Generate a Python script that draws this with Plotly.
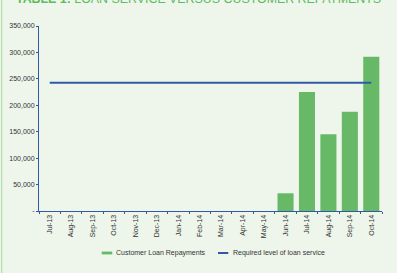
import plotly.graph_objects as go

months = ["Jul-13", "Aug-13", "Sep-13", "Oct-13", "Nov-13", "Dec-13", "Jan-14", "Feb-14",
          "Mar-14", "Apr-14", "May-14", "Jun-14", "Jul-14", "Aug-14", "Sep-14", "Oct-14"]
repayments = [0, 0, 0, 0, 0, 0, 0, 0, 0, 0, 0, 33500, 225000, 145000, 188000, 292000]
required = [242500] * 16
y_ticks = [0, 50000, 100000, 150000, 200000, 250000, 300000, 350000]
y_tick_text = ["-", "50,000", "100,000", "150,000", "200,000", "250,000", "300,000", "350,000"]
series_names = ["Customer Loan Repayments", "Required level of loan service"]

BG = "#eef6ec"
GREEN = "#67b867"
BLUE = "#2f5aa6"
TXT = "#333333"
FONT = "Liberation Sans"

# plot area in pixels: x 39..382, y 26..211.5
L, R, T, B = 39, 382, 26, 211.5
def px(x):
    return (x - L) / (R - L)
def py(y):
    return (B - y) / (B - T)

fig = go.Figure()
fig.add_trace(go.Bar(x=months, y=repayments, name=series_names[0], showlegend=False,
                     marker=dict(color=GREEN, line=dict(width=0))))
fig.add_trace(go.Scatter(x=months, y=required, name=series_names[1], showlegend=False,
                         mode="lines", line=dict(color=BLUE, width=2)))

shapes = [
    dict(type="line", xref="paper", yref="paper", x0=px(1.7), x1=px(1.7),
         y0=py(280), y1=py(-5), line=dict(color="#a8d8a0", width=1)),
    dict(type="rect", xref="paper", yref="paper", x0=px(101.7), x1=px(112.3),
         y0=py(255), y1=py(252.2), line=dict(width=0), fillcolor=GREEN),
    dict(type="line", xref="paper", yref="paper", x0=px(218), x1=px(228.3),
         y0=py(253.6), y1=py(253.6), line=dict(color=BLUE, width=2)),
]
annotations = [
    dict(text="<b>TABLE 1:</b> LOAN SERVICE VERSUS CUSTOMER REPAYMENTS",
         xref="paper", yref="paper", x=px(198.5), y=py(-1.5), xanchor="center",
         yanchor="middle", showarrow=False,
         font=dict(family=FONT, size=12.4, color="#5cbb5e")),
    dict(text=series_names[0], xref="paper", yref="paper", x=px(113.5), y=py(253.6),
         xanchor="left", yanchor="middle", showarrow=False,
         font=dict(family=FONT, size=7, color=TXT)),
    dict(text=series_names[1], xref="paper", yref="paper", x=px(230.5), y=py(253.6),
         xanchor="left", yanchor="middle", showarrow=False,
         font=dict(family=FONT, size=7, color=TXT)),
]

fig.update_layout(
    width=397, height=273,
    margin=dict(l=L, r=397 - R, t=T, b=273 - B),
    paper_bgcolor=BG, plot_bgcolor=BG,
    font=dict(family=FONT, size=7, color=TXT),
    bargap=0.25,
    showlegend=False,
    xaxis=dict(type="category", tickangle=-90, showgrid=False, zeroline=False,
               showline=True, linecolor=BLUE, linewidth=1, automargin=False,
               ticks="outside", tickson="boundaries", ticklen=2, tickcolor=BLUE,
               tickfont=dict(size=7, color=TXT), fixedrange=True),
    yaxis=dict(range=[0, 350000], tickvals=y_ticks, ticktext=y_tick_text, automargin=False,
               showgrid=False, zeroline=False, showline=True, linecolor=BLUE, linewidth=1,
               ticks="outside", ticklen=2, tickcolor=BLUE,
               tickfont=dict(size=7, color=TXT), fixedrange=True),
    annotations=annotations,
    shapes=shapes,
)

fig.write_html("out.html")
